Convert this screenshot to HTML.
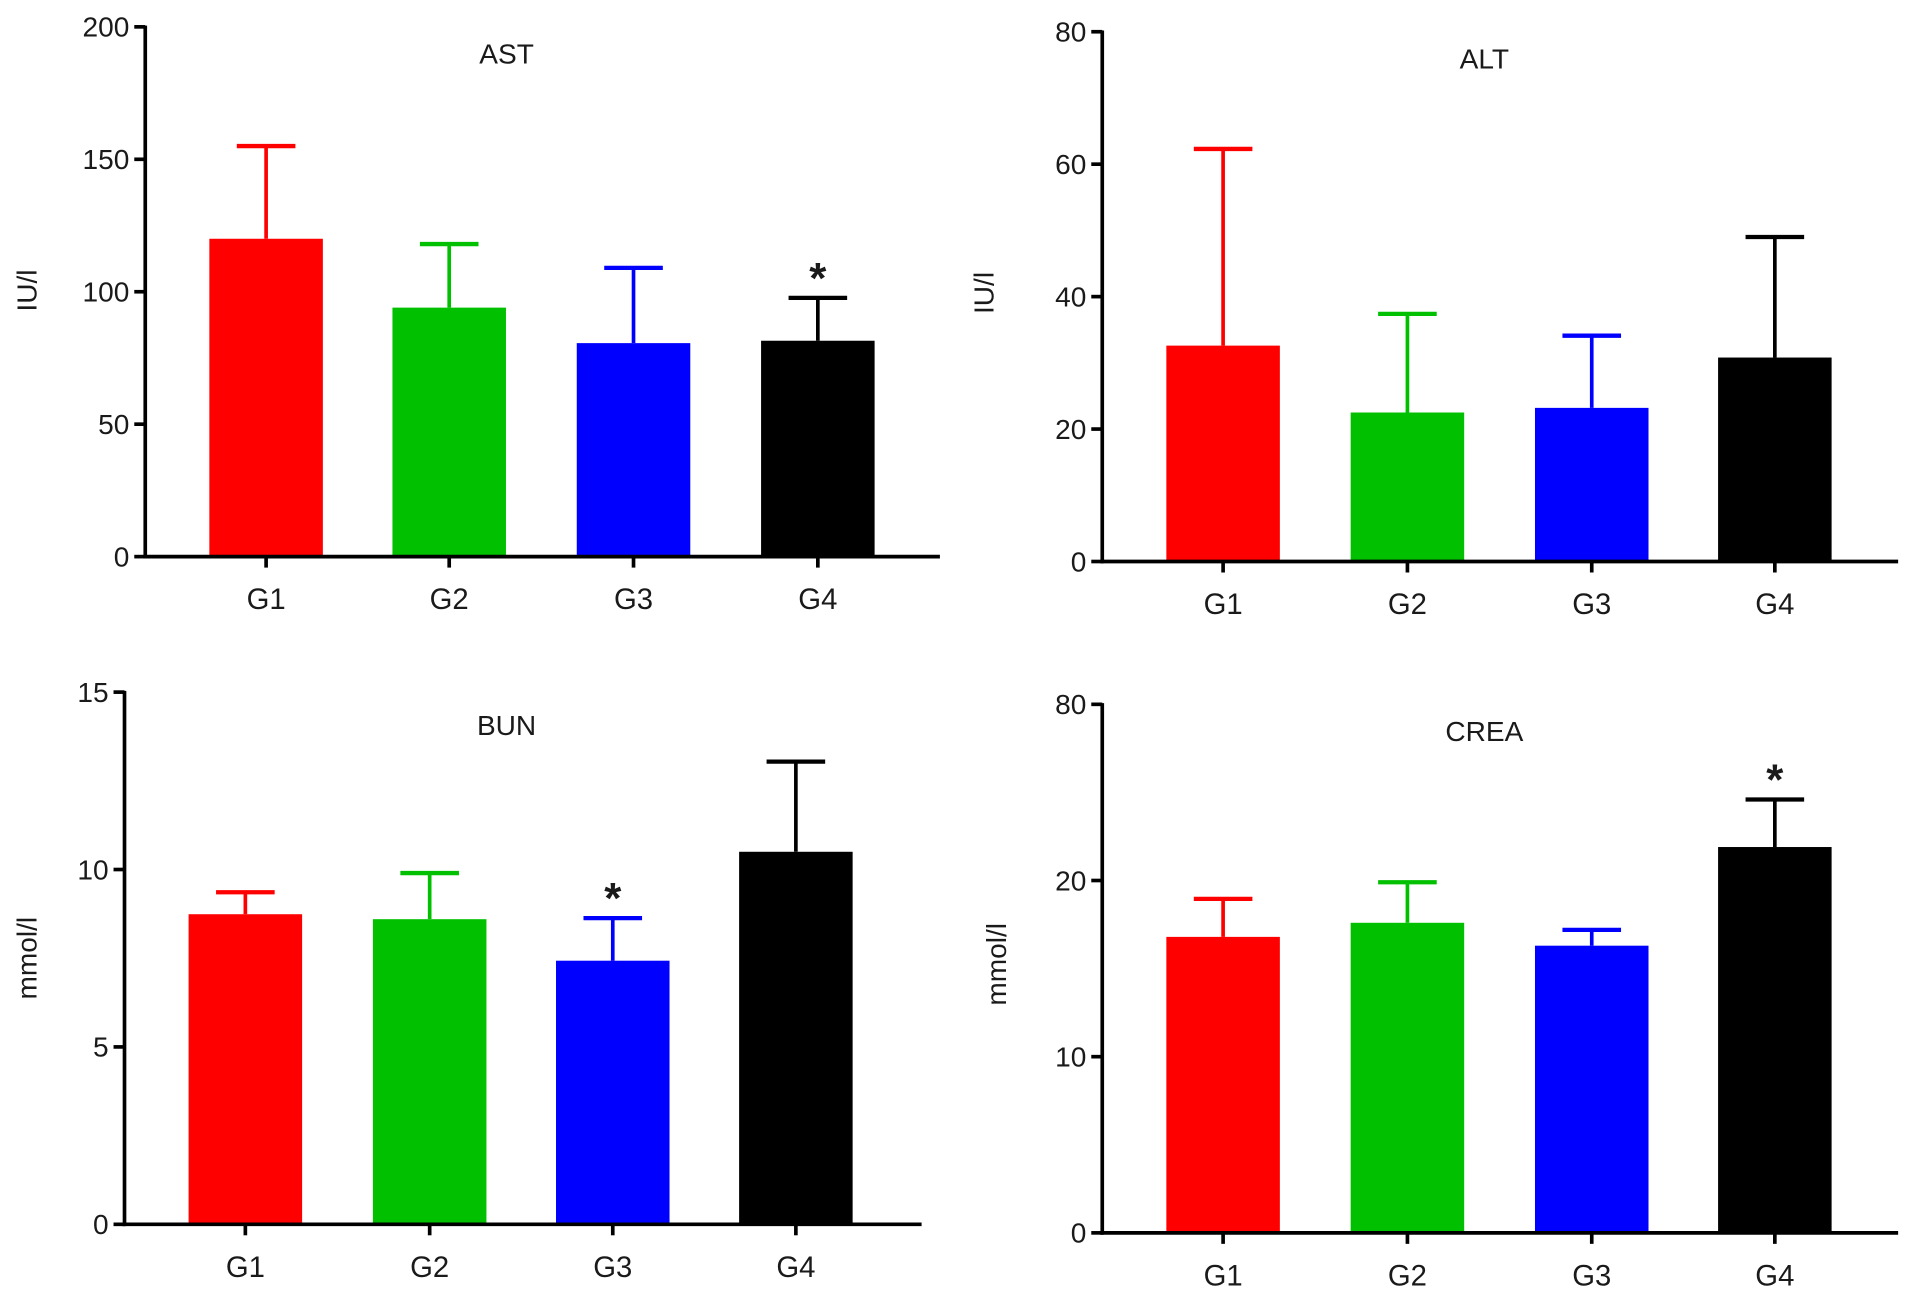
<!DOCTYPE html>
<html><head><meta charset="utf-8"><style>
html,body{margin:0;padding:0;background:#fff;}
svg{display:block;}
text{font-family:"Liberation Sans",sans-serif;fill:#1a1a1a;}
</style></head><body>
<svg id="fig" width="1914" height="1300" viewBox="0 0 1568 1065" preserveAspectRatio="none" xmlns="http://www.w3.org/2000/svg"></svg>
<script>
const groups = ["G1","G2","G3","G4"];
const colors = ["#ff0000","#00c000","#0000ff","#000000"];
const astValues = [120, 94, 80.6, 81.5];
const astErrors = [155, 118, 109, 97.7];
const astStars = [false,false,false,true];
const altValues = [32.6, 22.5, 23.2, 30.8];
const altErrors = [62.3, 37.4, 34.1, 49];
const altStars = [false,false,false,false];
const bunValues = [8.74, 8.6, 7.43, 10.5];
const bunErrors = [9.36, 9.9, 8.63, 13.04];
const bunStars = [false,false,true,false];
const creaValues = [16.8, 17.6, 16.3, 21.9];
const creaErrors = [18.96, 19.9, 17.2, 24.6];
const creaStars = [false,false,false,true];
const astTicks = [0,50,100,150,200];
const altTicks = [0,20,40,60,80];
const bunTicks = [0,5,10,15];
const creaTicks = [0,10,20,30];
const creaTickLabels = ["0","10","20","80"];

const NS="http://www.w3.org/2000/svg";
const svg=document.getElementById('fig');
function mk(tag,attrs,parent){const e=document.createElementNS(NS,tag);for(const k in attrs)e.setAttribute(k,attrs[k]);(parent||svg).appendChild(e);return e;}

const panels=[
 {name:'ast',title:'AST',ylab:'IU/l',vals:astValues,errs:astErrors,stars:astStars,ticks:astTicks,labels:astTicks.map(String),max:200,
  ax:119,top:22,zero:456,xend:770,centers:[218,368,519,670],tx:415,ty:52,lx:30,ly:238},
 {name:'alt',title:'ALT',ylab:'IU/l',vals:altValues,errs:altErrors,stars:altStars,ticks:altTicks,labels:altTicks.map(String),max:80,
  ax:903,top:26,zero:460,xend:1555,centers:[1002,1153,1304,1454],tx:1216,ty:56,lx:814,ly:240},
 {name:'bun',title:'BUN',ylab:'mmol/l',vals:bunValues,errs:bunErrors,stars:bunStars,ticks:bunTicks,labels:bunTicks.map(String),max:15,
  ax:102,top:567,zero:1003,xend:755,centers:[201,352,502,652],tx:415,ty:602,lx:30,ly:785},
 {name:'crea',title:'CREA',ylab:'mmol/l',vals:creaValues,errs:creaErrors,stars:creaStars,ticks:creaTicks,labels:creaTickLabels,max:30,
  ax:903,top:577,zero:1010,xend:1555,centers:[1002,1153,1304,1454],tx:1216,ty:607,lx:824,ly:790}
];
const bw=93, cap=48;
panels.forEach(p=>{
  const g=mk('g',{});
  
  
  const y=v=>p.zero-(v/p.max)*(p.zero-p.top);
  p.vals.forEach((v,i)=>{
    const c=p.centers[i];
    const eb=mk('line',{x1:c,x2:c,y1:y(v),y2:y(p.errs[i]),stroke:colors[i],'stroke-width':3},g);
    
    
    const ec=mk('line',{x1:c-cap/2,x2:c+cap/2,y1:y(p.errs[i]),y2:y(p.errs[i]),stroke:colors[i],'stroke-width':3.5},g);
    
    
    const r=mk('rect',{x:c-bw/2,y:y(v),width:bw,height:p.zero-y(v),fill:colors[i]},g);
    
    
    if(p.stars[i]){
      const s=mk('text',{x:c,y:y(p.errs[i])-4,'text-anchor':'middle','font-size':36,'font-weight':'bold'},g);
      s.textContent='*';
      
      
    }
    const tl=mk('text',{x:c,y:p.zero+43,'text-anchor':'middle','font-size':24},g);
    tl.textContent=groups[i];
    
    
    mk('line',{x1:c,x2:c,y1:p.zero,y2:p.zero+9,stroke:'#000','stroke-width':3},g);
  });
  const ya=mk('line',{x1:p.ax,x2:p.ax,y1:p.top-1,y2:p.zero+1.5,stroke:'#000','stroke-width':3},g);
  
  
  const xa=mk('line',{x1:p.ax-1.5,x2:p.xend,y1:p.zero,y2:p.zero,stroke:'#000','stroke-width':3},g);
  
  
  p.ticks.forEach((t,k)=>{
    mk('line',{x1:p.ax-9,x2:p.ax,y1:y(t),y2:y(t),stroke:'#000','stroke-width':3},g);
    const tl=mk('text',{x:p.ax-13,y:y(t)+8,'text-anchor':'end','font-size':23},g);
    tl.textContent=p.labels[k];
    
    
  });
  const ti=mk('text',{x:p.tx,y:p.ty,'text-anchor':'middle','font-size':23},g);
  ti.textContent=p.title;
  
  
  const yl=mk('text',{x:0,y:0,'text-anchor':'middle','font-size':23,transform:`translate(${p.lx},${p.ly}) rotate(-90)`},g);
  yl.textContent=p.ylab;
  
  
});
</script>
</body></html>
